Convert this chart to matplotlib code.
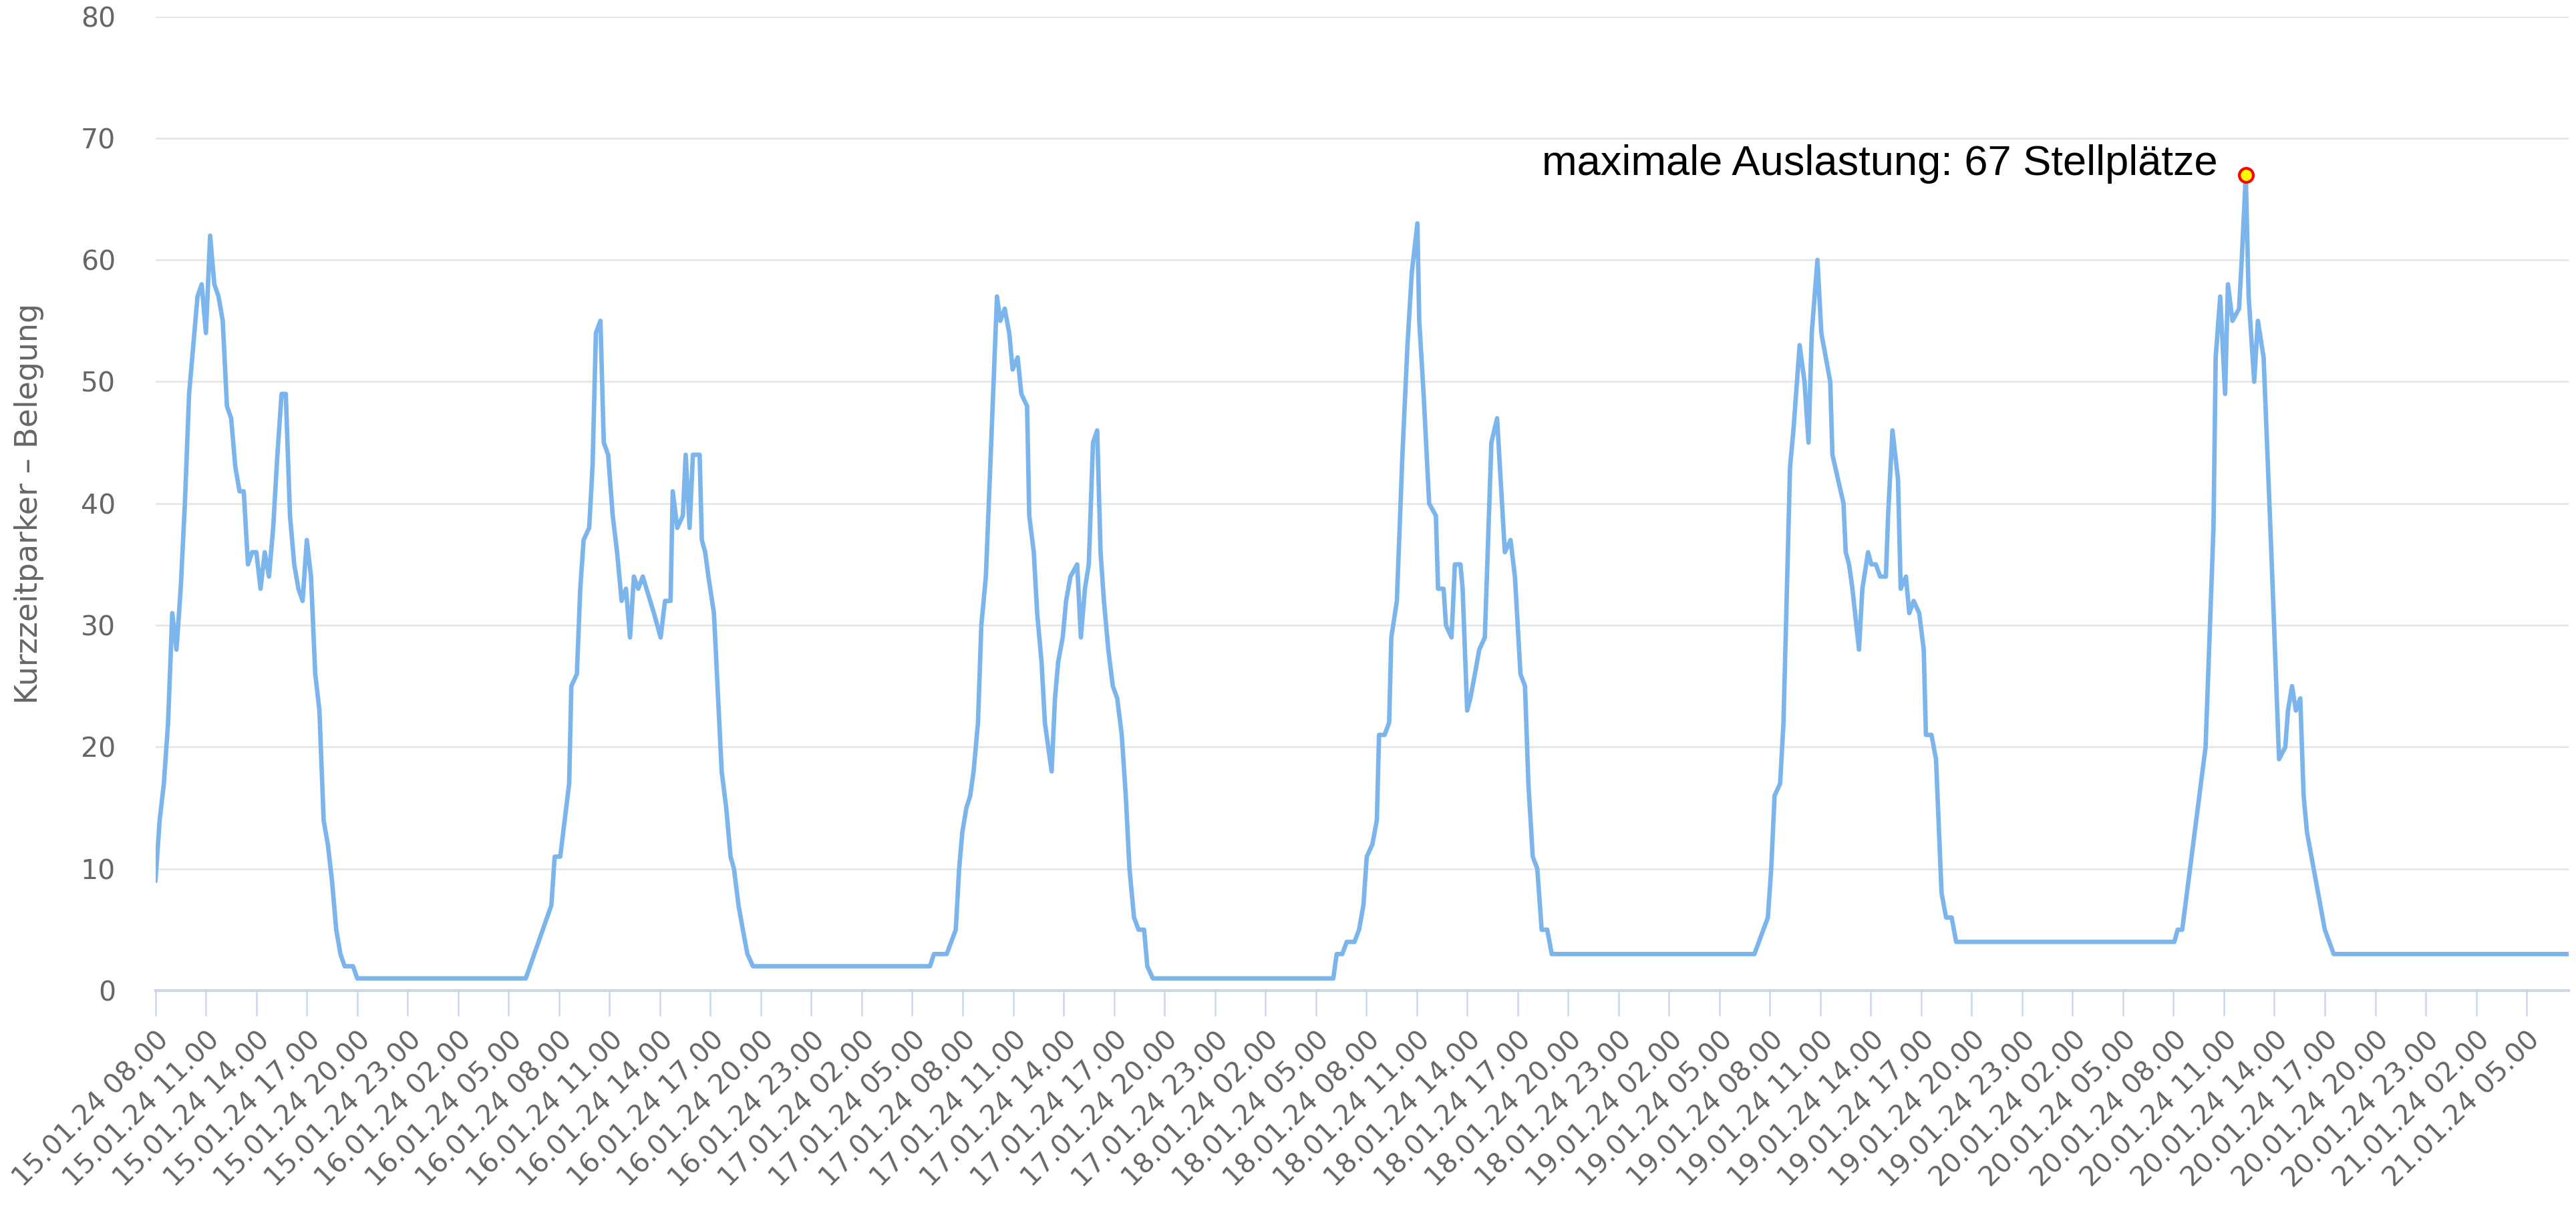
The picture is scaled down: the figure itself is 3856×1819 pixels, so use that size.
import matplotlib.pyplot as plt
import pandas as pd

# Kurzzeitparker: Stunden seit 15.01.24 08:00 und belegte Stellplätze
stunden = [
    # 15.01.
    0.0, 0.25, 0.5, 0.75, 1.0, 1.25, 1.5, 1.75, 2.0, 2.25, 2.5, 2.75, 3.0, 3.25,
    3.5, 3.75, 4.0, 4.25, 4.5, 4.75, 5.0, 5.25, 5.5, 5.75, 6.0, 6.25, 6.5, 6.75,
    7.0, 7.25, 7.5, 7.75, 8.0, 8.25, 8.5, 8.75, 9.0, 9.25, 9.5, 9.75, 10.0, 10.25,
    10.5, 10.75, 11.0, 11.25, 11.5, 11.75, 12.0,
    # 16.01.
    22.02, 23.54, 23.74, 24.07, 24.6, 24.73, 25.06, 25.26, 25.46, 25.79, 25.99,
    26.19, 26.46, 26.66, 26.92, 27.19, 27.45, 27.72, 27.98, 28.22, 28.45, 28.71,
    28.98, 29.64, 30.04, 30.3, 30.63, 30.76, 31.03, 31.36, 31.53, 31.76, 31.96,
    32.36, 32.49, 32.69, 32.88, 33.21, 33.67, 33.94, 34.2, 34.4, 34.67, 34.93,
    35.2, 35.53,
    # 17.01.
    46.06, 46.29, 47.05, 47.59, 47.79, 47.98, 48.22, 48.45, 48.65, 48.91, 49.11,
    49.38, 49.64, 50.04, 50.24, 50.5, 50.77, 50.97, 51.27, 51.49, 51.83, 51.96,
    52.23, 52.43, 52.69, 52.89, 53.29, 53.49, 53.68, 53.95, 54.15, 54.41, 54.81,
    55.03, 55.27, 55.5, 55.75, 56.0, 56.2, 56.4, 56.66, 56.93, 57.19, 57.46,
    57.7, 57.92, 58.19, 58.46, 58.79, 58.98, 59.31,
    # 18.01.
    70.04, 70.24, 70.57, 70.84, 71.3, 71.57, 71.83, 72.03, 72.36, 72.63, 72.76,
    73.09, 73.36, 73.49, 73.82, 74.15, 74.45, 74.71, 75.04, 75.15, 75.41, 75.74,
    76.14, 76.27, 76.6, 76.74, 77.07, 77.27, 77.6, 77.73, 78.0, 78.19, 78.46,
    78.72, 79.05, 79.44, 79.78, 80.24, 80.58, 80.84, 81.17, 81.44, 81.64, 81.9,
    82.17, 82.43, 82.76, 83.03,
    # 19.01.
    95.08, 95.88, 96.08, 96.28, 96.61, 96.81, 97.2, 97.4, 97.77, 98.06, 98.3,
    98.49, 98.83, 99.06, 99.59, 99.72, 100.38, 100.51, 100.71, 100.91, 101.3,
    101.5, 101.84, 102.03, 102.3, 102.56, 102.9, 103.03, 103.29, 103.62, 103.78,
    104.09, 104.29, 104.55, 104.88, 105.15, 105.28, 105.61, 105.88, 106.21,
    106.48, 106.81, 107.08,
    # 20.01.
    120.05, 120.25, 120.52, 121.91, 122.38, 122.51, 122.78, 123.07, 123.24,
    123.51, 123.9, 124.06, 124.3, 124.47, 124.8, 125.02, 125.36, 125.82, 126.28,
    126.65, 126.81, 127.05, 127.28, 127.54, 127.74, 127.94, 129.0, 129.53,
    # 21.01.
    143.5,
]
belegung = [
    # 15.01.
    9, 14, 17, 22, 31, 28, 33, 40, 49, 53, 57, 58, 54, 62,
    58, 57, 55, 48, 47, 43, 41, 41, 35, 36, 36, 33, 36, 34,
    38, 44, 49, 49, 39, 35, 33, 32, 37, 34, 26, 23, 14, 12,
    9, 5, 3, 2, 2, 2, 1,
    # 16.01.
    1, 7, 11, 11, 17, 25, 26, 33, 37, 38, 43,
    54, 55, 45, 44, 39, 36, 32, 33, 29, 34, 33,
    34, 31, 29, 32, 32, 41, 38, 39, 44, 38, 44,
    44, 37, 36, 34, 31, 18, 15, 11, 10, 7, 5,
    3, 2,
    # 17.01.
    2, 3, 3, 5, 10, 13, 15, 16, 18, 22, 30,
    34, 43, 57, 55, 56, 54, 51, 52, 49, 48, 39,
    36, 31, 27, 22, 18, 24, 27, 29, 32, 34, 35,
    29, 33, 35, 45, 46, 36, 32, 28, 25, 24, 21,
    16, 10, 6, 5, 5, 2, 1,
    # 18.01.
    1, 3, 3, 4, 4, 5, 7, 11, 12, 14, 21,
    21, 22, 29, 32, 44, 53, 59, 63, 55, 49, 40,
    39, 33, 33, 30, 29, 35, 35, 33, 23, 24, 26,
    28, 29, 45, 47, 36, 37, 34, 26, 25, 17, 11,
    10, 5, 5, 3,
    # 19.01.
    3, 6, 10, 16, 17, 22, 43, 46, 53, 50, 45,
    54, 60, 54, 50, 44, 40, 36, 35, 33, 28,
    33, 36, 35, 35, 34, 34, 39, 46, 42, 33,
    34, 31, 32, 31, 28, 21, 21, 19, 8,
    6, 6, 4,
    # 20.01.
    4, 5, 5, 20, 38, 52, 57, 49, 58,
    55, 56, 60, 67, 57, 50, 55, 52, 36, 19,
    20, 23, 25, 23, 24, 16, 13, 5, 3,
    # 21.01.
    3,
]

tick_zeiten = pd.date_range("2024-01-15 08:00", "2024-01-21 05:00", freq="3h")
tick_labels = [t.strftime("%d.%m.%y %H.%M") for t in tick_zeiten]
tick_pos = [(t - tick_zeiten[0]).total_seconds() / 3600 for t in tick_zeiten]
y_ticks = list(range(0, 81, 10))

LINE = "#7cb5ec"
GRID = "#e6e6e6"
AXIS = "#ccd6eb"
TEXT = "#666666"

fig = plt.figure(figsize=(38.56, 18.19), dpi=100)
ax = fig.add_axes([0.06035, 0.1847, 0.9368, 0.8018])

ax.plot(stunden, belegung, color=LINE, lw=4.8,
        solid_joinstyle="round", solid_capstyle="round", zorder=3)

# Maximum markieren
i_max = max(range(len(belegung)), key=lambda i: belegung[i])
ax.plot(stunden[i_max], belegung[i_max], "o", ms=15, mfc="#ffff00",
        mec="#ff0000", mew=3, zorder=4, clip_on=False)
ax.annotate(f"maximale Auslastung: {belegung[i_max]} Stellplätze",
            xy=(stunden[i_max], belegung[i_max]), xytext=(-30, 0),
            textcoords="offset points", ha="right", va="baseline",
            fontsize=45.5, family="Liberation Sans", color="black")

ax.set_xlim(0, stunden[-1])
ax.set_ylim(0, 80)

ax.set_yticks(y_ticks)
ax.yaxis.grid(True, color=GRID, lw=2.0)
ax.set_axisbelow(True)
ax.tick_params(axis="y", length=0, pad=43, labelsize=29.5, labelcolor=TEXT)

ax.set_xticks(tick_pos)
ax.set_xticklabels(tick_labels, rotation=45, ha="right", rotation_mode="anchor")
ax.tick_params(axis="x", direction="out", length=27, width=1.8, color=AXIS,
               pad=12, labelsize=29.3, labelcolor=TEXT)

for side in ["left", "top", "right"]:
    ax.spines[side].set_visible(False)
ax.spines["bottom"].set_color(AXIS)
ax.spines["bottom"].set_linewidth(2.9)

ax.set_ylabel("Kurzzeitparker – Belegung", fontsize=33, color=TEXT)
ax.yaxis.set_label_coords(-0.0461, 0.5)

fig.savefig("out.png", dpi=100)
